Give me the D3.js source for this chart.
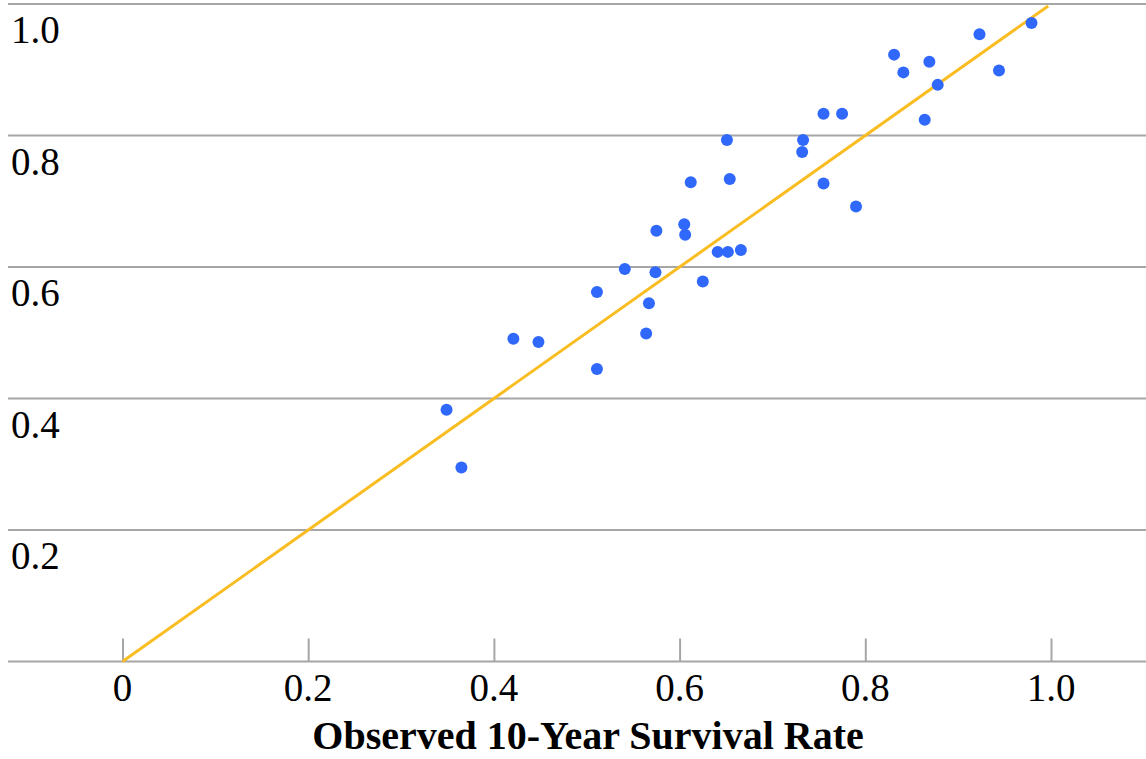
<!DOCTYPE html>
<html>
<head>
<meta charset="utf-8">
<script src="https://cdn.jsdelivr.net/npm/d3@7"></script>
<style>
  body { margin: 0; background: #fff; }
  svg { display: block; font-family: "Liberation Serif", "Times New Roman", serif; }
</style>
</head>
<body>
<svg id="chart" width="1146" height="759"></svg>
<script>
// observed vs predicted 10-year survival
const observed = [0.349, 0.365, 0.421, 0.448, 0.511, 0.511, 0.541, 0.564, 0.567, 0.574,
  0.575, 0.605, 0.606, 0.612, 0.625, 0.641, 0.652, 0.666, 0.651, 0.654,
  0.732, 0.733, 0.755, 0.775, 0.755, 0.790, 0.831, 0.841, 0.869, 0.864,
  0.878, 0.923, 0.944, 0.979];
const predicted = [0.383, 0.295, 0.491, 0.486, 0.445, 0.562, 0.597, 0.499, 0.545, 0.592,
  0.655, 0.665, 0.649, 0.729, 0.578, 0.623, 0.623, 0.626, 0.793, 0.734,
  0.775, 0.793, 0.833, 0.833, 0.727, 0.692, 0.923, 0.896, 0.912, 0.824,
  0.877, 0.954, 0.899, 0.971];

// reference line (y = x)
const fitX = [0, 0.997];
const fitY = [0, 0.997];

const xTicks = [0, 0.2, 0.4, 0.6, 0.8, 1.0];
const xTickLabels = ["0", "0.2", "0.4", "0.6", "0.8", "1.0"];
const yTicks = [0.2, 0.4, 0.6, 0.8, 1.0];
const yTickLabels = ["0.2", "0.4", "0.6", "0.8", "1.0"];
const xTitle = "Observed 10-Year Survival Rate";

const svg = d3.select("#chart");

const x = d3.scaleLinear().domain([0, 1]).range([122.5, 1051]);
const y = d3.scaleLinear().domain([0, 1]).range([661.5, 4]);

const gridLeft = 8, gridRight = 1146;

// horizontal grid lines + baseline
svg.append("g")
  .selectAll("line")
  .data([0].concat(yTicks))
  .enter().append("line")
    .attr("x1", gridLeft)
    .attr("x2", gridRight)
    .attr("y1", d => y(d))
    .attr("y2", d => y(d))
    .attr("stroke", "#a6a6a6")
    .attr("stroke-width", 2);

// y labels sit under their grid line
svg.append("g")
  .selectAll("text")
  .data(yTicks)
  .enter().append("text")
    .attr("x", 11)
    .attr("y", d => y(d) + 39)
    .attr("font-size", 39)
    .attr("fill", "#000")
    .text((d, i) => yTickLabels[i]);

// x ticks
const xAxis = d3.axisBottom(x)
  .tickValues(xTicks)
  .tickSize(-23)
  .tickFormat("");
const gx = svg.append("g")
  .attr("transform", `translate(0,${y(0)})`)
  .call(xAxis);
gx.select(".domain").remove();
gx.selectAll(".tick line")
  .attr("stroke", "#a6a6a6")
  .attr("stroke-width", 2);

svg.append("g")
  .selectAll("text")
  .data(xTicks)
  .enter().append("text")
    .attr("x", d => x(d))
    .attr("y", 701)
    .attr("text-anchor", "middle")
    .attr("font-size", 39)
    .attr("fill", "#000")
    .text((d, i) => xTickLabels[i]);

svg.append("text")
  .attr("x", 588)
  .attr("y", 749)
  .attr("text-anchor", "middle")
  .attr("font-size", 40)
  .attr("font-weight", "bold")
  .attr("fill", "#000")
  .text(xTitle);

// reference line
const line = d3.line()
  .x(d => x(d[0]))
  .y(d => y(d[1]));

svg.append("path")
  .datum(d3.zip(fitX, fitY))
  .attr("d", line)
  .attr("fill", "none")
  .attr("stroke", "#f9bd22")
  .attr("stroke-width", 3);

// points
svg.append("g")
  .selectAll("circle")
  .data(d3.zip(observed, predicted))
  .enter().append("circle")
    .attr("cx", d => x(d[0]))
    .attr("cy", d => y(d[1]))
    .attr("r", 6)
    .attr("fill", "#2f68fb");
</script>
</body>
</html>
